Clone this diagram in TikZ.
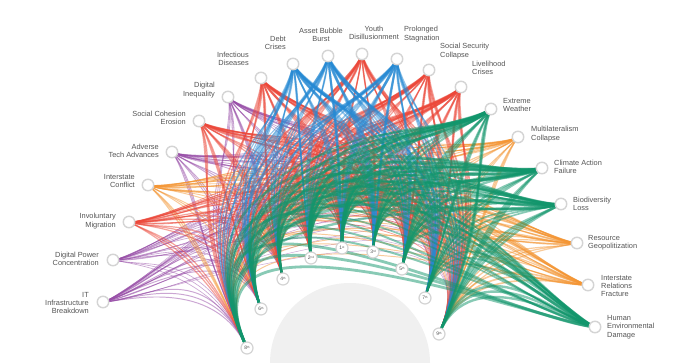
\documentclass[tikz,border=0pt]{standalone}
\usepackage{fontspec}
\setmainfont{Liberation Sans}
\usetikzlibrary{calc}
\definecolor{cpur}{RGB}{152,78,168}
\definecolor{cred}{RGB}{236,72,58}
\definecolor{corg}{RGB}{244,150,52}
\definecolor{cblu}{RGB}{38,138,212}
\definecolor{cgrn}{RGB}{18,150,108}
\definecolor{halfgray}{RGB}{240,240,240}
\definecolor{ringgray}{RGB}{212,212,212}
\definecolor{txtgray}{RGB}{85,85,85}
\tikzset{
  lbl/.style={font=\fontsize{7.4}{8.4}\selectfont, text=txtgray, inner sep=0pt},
  ocirc/.style={circle, draw=ringgray, line width=1.4pt, fill=white, minimum size=11.5pt, inner sep=0pt},
  icirc/.style={circle, draw=ringgray, line width=1.2pt, fill=white, minimum size=12pt, inner sep=0pt, font=\fontsize{5}{5}\selectfont, text=txtgray},
  link/.style={line width=#1pt, opacity=0.5, line cap=round}
}
\def\angs{{91.3,96.8,86.1,102.6,80.4,108.8,74.1,114.8,67.6}}
\begin{document}
\begin{tikzpicture}[x=1pt,y=1pt]
\useasboundingbox (0,-363) rectangle (700,0);
\fill[white] (0,-363) rectangle (700,0);
\fill[halfgray] (270,-363) arc[start angle=180,end angle=0,radius=80] -- cycle;
% inner positions
\foreach \nn/\xx/\yy in {1/342/248,2/311/258,3/373/252,4/283/279,5/402/269,6/261/309,7/425/298,8/247/348,9/439/334}
  \coordinate (i\nn) at (\xx,-\yy);
% outer positions
\foreach \nn/\xx/\yy in {1/103/302,2/113/260,3/129/222,4/148/185,5/172/152,6/199/121,7/228/97,8/261/78,9/293/64,10/328/56,11/362/54,12/397/59,13/429/70,14/461/87,15/491/109,16/518/137,17/542/168,18/561/204,19/577/243,20/588/285,21/595/327}
  \coordinate (o\nn) at (\xx,-\yy);
\coordinate (P) at (350,-175);
% links: each link is a small bundle of strands
\foreach \oi/\col/\wl in {
 1/cpur/{0.8,0.6,0.8,1,0.8,1.2,0.8,1.2,0.6},
 2/cpur/{0.6,0.6,0.6,0.8,0.6,0.8,0.6,0.8,0.6},
 5/cpur/{0.8,1,0.8,1.2,0.8,1,0.8,1.2,0.8},
 7/cpur/{0.8,1,0.8,1.5,1,1,0.8,1,1},
 4/corg/{1,1,1,1.2,1,1.2,1,1.5,1.2},
 16/corg/{1,1,1.2,1,1.5,1,1.2,1,1.5},
 19/corg/{1.2,1.2,1.2,1.2,1.5,1.2,1.5,1.2,1.5},
 20/corg/{1.2,1,1.2,1,1.5,1.2,1.5,1.2,2},
 3/cred/{1,1.2,1,1.5,1.2,1.5,1,1.5,1},
 6/cred/{1.2,1.5,1.2,2,1.5,1.5,1.2,1.5,1.5},
 8/cred/{2.5,2,1.5,2,1.5,1.5,1.5,1.5,1.5},
 11/cred/{1.5,2,1.5,2,1.5,1.5,1.5,1.5,2},
 13/cred/{1.5,2,1.5,2,2,1.5,2,1.5,2},
 14/cred/{2.5,2,2,2,2,1.5,2,1.5,2},
 9/cblu/{2,2,3,1.5,2,3,2.5,1.5,1.5},
 10/cblu/{2.5,1.5,3,1.5,2,2.5,3,1.2,1.2},
 12/cblu/{3,2,2.5,1.5,2,2,2,1.5,1.2},
 15/cgrn/{4,3,2.5,2,3,2.5,2,3,2.5},
 17/cgrn/{3,3.5,2.5,2.5,3,3,2.5,3.5,2.5},
 18/cgrn/{2.5,3,2,2,3,2.5,2,3,3},
 21/cgrn/{2.5,3,2,2,3,2.5,2,3.5,3}}{
  \foreach \ww [count=\jj] in \wl {
    \pgfmathsetmacro\angv{\angs[\jj-1]}
    \pgfmathsetmacro\sw{0.8*\ww}
    \foreach \lo/\li in {1.35/0.35,1.55/0.5,1.75/0.65}{
      \draw[\col, link=\sw] let \p1=($($(P)!0.7!(i\jj)$)-(o\oi)$), \n1={atan2(\y1,\x1)} in
        (i\jj) to[out=\angv, in=\n1, out looseness=\lo, in looseness=\li] (o\oi);
    }
  }
}
% inner nodes
\foreach \nn/\sx in {1/st,2/nd,3/rd,4/th,5/th,6/th,7/th,8/th,9/th}
  \node[icirc] (n\nn) at (i\nn) {\nn\raisebox{0.8pt}{\fontsize{3}{3}\selectfont\sx}};
% outer nodes
\foreach \nn in {1,...,21}
  \node[ocirc] (c\nn) at (o\nn) {};
% labels
\node[lbl, anchor=east, align=right] (t1) at (89,-303) {IT\\Infrastructure\\Breakdown};
\node[lbl, anchor=east, align=right] (t2) at (99,-259) {Digital Power\\Concentration};
\node[lbl, anchor=east, align=right] (t3) at (116,-221) {Involuntary\\Migration};
\node[lbl, anchor=east, align=right] (t4) at (135,-181) {Interstate\\Conflict};
\node[lbl, anchor=east, align=right] (t5) at (159,-151) {Adverse\\Tech Advances};
\node[lbl, anchor=east, align=right] (t6) at (186,-118) {Social Cohesion\\Erosion};
\node[lbl, anchor=east, align=right] (t7) at (215,-90) {Digital\\Inequality};
\node[lbl, anchor=east, align=right] (t8) at (249,-59) {Infectious\\Diseases};
\node[lbl, anchor=east, align=right] (t9) at (286,-43) {Debt\\Crises};
\node[lbl, align=center] (t10) at (321,-35) {Asset Bubble\\Burst};
\node[lbl, align=center] (t11) at (374,-33) {Youth\\Disillusionment};
\node[lbl, anchor=west, align=left] (t12) at (404,-34) {Prolonged\\Stagnation};
\node[lbl, anchor=west, align=left] (t13) at (440,-51) {Social Security\\Collapse};
\node[lbl, anchor=west, align=left] (t14) at (472,-68) {Livelihood\\Crises};
\node[lbl, anchor=west, align=left] (t15) at (503,-105) {Extreme\\Weather};
\node[lbl, anchor=west, align=left] (t16) at (531,-134) {Multilateralism\\Collapse};
\node[lbl, anchor=west, align=left] (t17) at (554,-167) {Climate Action\\Failure};
\node[lbl, anchor=west, align=left] (t18) at (573,-204) {Biodiversity\\Loss};
\node[lbl, anchor=west, align=left] (t19) at (588,-243) {Resource\\Geopolitization};
\node[lbl, anchor=west, align=left] (t20) at (601,-286) {Interstate\\Relations\\Fracture};
\node[lbl, anchor=west, align=left] (t21) at (607,-327) {Human\\Environmental\\Damage};
\end{tikzpicture}
\end{document}
